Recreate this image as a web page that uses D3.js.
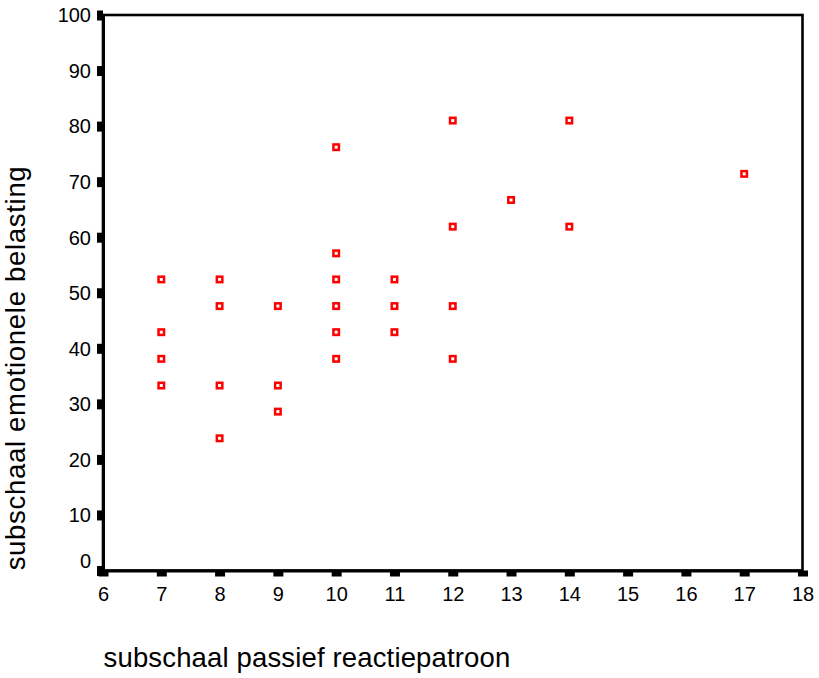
<!DOCTYPE html>
<html>
<head>
<meta charset="utf-8">
<script src="https://cdn.jsdelivr.net/npm/d3@7"></script>
<style>
  html, body { margin: 0; padding: 0; background: #fff; }
  svg { display: block; }
  text { font-family: "Liberation Sans", Arial, sans-serif; fill: #000; }
</style>
</head>
<body>
<svg id="chart" width="819" height="678"></svg>
<script>
// Data: x = subschaal passief reactiepatroon, y = subschaal emotionele belasting
const xValues = [7, 7, 7, 7, 8, 8, 8, 8, 9, 9, 9, 10, 10, 10, 10, 10, 10, 11, 11, 11, 12, 12, 12, 12, 13, 14, 14, 17];
const yValues = [52.4, 42.9, 38.1, 33.3, 52.4, 47.6, 33.3, 23.8, 47.6, 33.3, 28.6, 76.2, 57.1, 52.4, 47.6, 42.9, 38.1, 52.4, 47.6, 42.9, 81.0, 61.9, 47.6, 38.1, 66.7, 81.0, 61.9, 71.4];
const xTicks = [6, 7, 8, 9, 10, 11, 12, 13, 14, 15, 16, 17, 18];
const yTicks = [0, 10, 20, 30, 40, 50, 60, 70, 80, 90, 100];
const xTitle = "subschaal passief reactiepatroon";
const yTitle = "subschaal emotionele belasting";

(function () {
const svg = d3.select("#chart");
const mLeft = 103, mRight = 802.5, mTop = 15, mBottom = 570.5;

const x = d3.scaleLinear().domain([6, 18]).range([mLeft, mRight]);
const y = d3.scaleLinear().domain([0, 100]).range([mBottom, mTop]);

// frame
svg.append("rect")
  .attr("x", mLeft).attr("y", mTop)
  .attr("width", mRight - mLeft).attr("height", mBottom - mTop)
  .attr("fill", "none").attr("stroke", "#000").attr("stroke-width", 2.6);

// x axis
const gx = svg.append("g").attr("transform", `translate(0,${mBottom})`)
  .call(d3.axisBottom(x).tickValues(xTicks).tickFormat(d3.format("d")).tickSizeInner(6).tickSizeOuter(0));
gx.attr("font-family", null).attr("font-size", null);
gx.select(".domain").attr("stroke", "#000").attr("stroke-width", 3);
gx.selectAll(".tick line").attr("stroke", "#000").attr("stroke-width", 10);
gx.selectAll(".tick text")
  .attr("y", 30.5).attr("dy", 0)
  .style("font-size", "20px");

// y axis
const gy = svg.append("g").attr("transform", `translate(${mLeft},0)`)
  .call(d3.axisLeft(y).tickValues(yTicks).tickFormat(d3.format("d")).tickSizeInner(6).tickSizeOuter(0));
gy.attr("font-family", null).attr("font-size", null);
gy.select(".domain").attr("stroke", "#000").attr("stroke-width", 3);
gy.selectAll(".tick line").attr("stroke", "#000").attr("stroke-width", 10);
gy.selectAll(".tick text")
  .attr("x", -12).attr("dy", d => d === 0 ? "-0.15em" : "0.34em")
  .style("font-size", "20px");

// points
svg.append("g").selectAll("rect")
  .data(xValues.map((v, i) => [v, yValues[i]]))
  .join("rect")
  .attr("x", d => x(d[0]) - 2.75)
  .attr("y", d => y(d[1]) - 2.75)
  .attr("width", 5.5).attr("height", 5.5)
  .attr("fill", "#fff")
  .attr("stroke", "#ff0000")
  .attr("stroke-width", 2.5);

// titles
svg.append("text")
  .attr("x", 307).attr("y", 667)
  .attr("text-anchor", "middle")
  .style("font-size", "27.5px")
  .style("letter-spacing", "0.15px")
  .text(xTitle);

svg.append("text")
  .attr("transform", "translate(25,368) rotate(-90)")
  .attr("text-anchor", "middle")
  .style("font-size", "27.5px")
  .style("letter-spacing", "0.7px")
  .text(yTitle);
})();
</script>
</body>
</html>
